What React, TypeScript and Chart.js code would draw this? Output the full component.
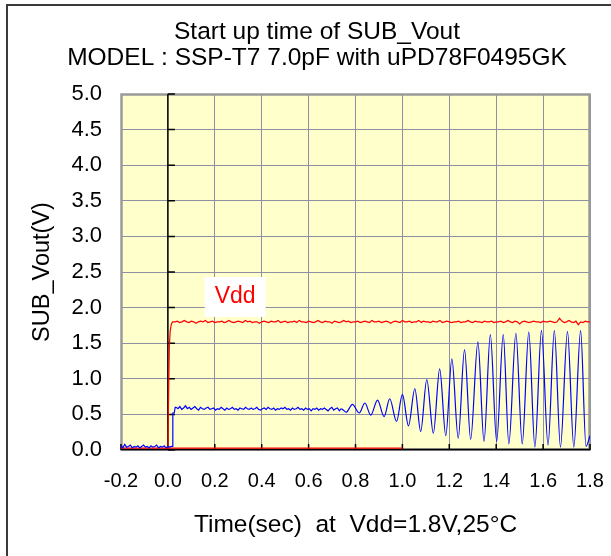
import { useEffect, useRef } from 'react';
import { Chart, registerables } from 'chart.js';

Chart.register(...registerables);

const FAMILY = '"Liberation Sans", Arial, sans-serif';

const TITLE_LINES = ['Start up time of SUB_Vout', 'MODEL : SSP-T7 7.0pF with uPD78F0495GK'];
const X_TITLE = 'Time(sec)  at  Vdd=1.8V,25°C';
const Y_TITLE = 'SUB_Vout(V)';
const VDD_LABEL = 'Vdd';
const VDD_LABEL_AT = { t: 0.287, v: 2.15 };

const X_TICKS = [-0.2, 0, 0.2, 0.4, 0.6, 0.8, 1.0, 1.2, 1.4, 1.6, 1.8];
const X_TICK_LABELS = ['-0.2', '0.0', '0.2', '0.4', '0.6', '0.8', '1.0', '1.2', '1.4', '1.6', '1.8'];
const Y_TICKS = [0, 0.5, 1.0, 1.5, 2.0, 2.5, 3.0, 3.5, 4.0, 4.5, 5.0];
const Y_TICK_LABELS = ['0.0', '0.5', '1.0', '1.5', '2.0', '2.5', '3.0', '3.5', '4.0', '4.5', '5.0'];

// SUB_Vout (blue) — sampled trace before power-up
const BLUE_PRE_START = -0.2;
const BLUE_PRE_STEP = 0.008;
const BLUE_PRE = [
  0.06, 0.03, 0.08, 0.04, 0.05, 0.07, 0.03, 0.05, 0.04, 0.06, 0.03, 0.05, 0.07, 0.04,
  0.05, 0.03, 0.06, 0.04, 0.05, 0.07, 0.03, 0.05, 0.04, 0.06, 0.03, 0.05, 0.04, 0.05,
];
// step up right after power-on
const BLUE_JUMP_T = [0.021, 0.021, 0.027, 0.031];
const BLUE_JUMP_V = [0.05, 0.52, 0.52, 0.6];
// flat (not yet oscillating) part
const BLUE_FLAT_START = 0.035;
const BLUE_FLAT_STEP = 0.008;
const BLUE_FLAT = [
  0.60, 0.58, 0.61, 0.57, 0.59, 0.62, 0.58, 0.60, 0.57, 0.59, 0.61, 0.58, 0.56, 0.60, 0.58, 0.57, 0.59, 0.60, 0.57, 0.58,
  0.59, 0.56, 0.58, 0.57, 0.60, 0.58, 0.56, 0.59, 0.57, 0.58, 0.60, 0.57, 0.58, 0.56, 0.59, 0.58, 0.57, 0.60, 0.58, 0.57,
  0.59, 0.57, 0.58, 0.60, 0.57, 0.56, 0.58, 0.59, 0.57, 0.60, 0.58, 0.57, 0.59, 0.56, 0.58, 0.57, 0.59, 0.58, 0.60, 0.57,
  0.58, 0.56, 0.59, 0.57, 0.58, 0.60, 0.57, 0.58, 0.56, 0.59, 0.57, 0.58, 0.55, 0.58, 0.57, 0.59, 0.56, 0.58, 0.57, 0.59,
  0.57, 0.55, 0.58, 0.60, 0.56, 0.58, 0.59, 0.55, 0.58,
];
// growing oscillation: alternating peaks and troughs
const BLUE_WAVE_T = [
  0.745, 0.76, 0.787, 0.816, 0.84, 0.865, 0.894, 0.922, 0.946, 0.975, 1.0, 1.026, 1.053, 1.078,
  1.104, 1.132, 1.159, 1.185, 1.211, 1.238, 1.265, 1.291, 1.322, 1.348, 1.375, 1.402, 1.43, 1.454,
  1.484, 1.511, 1.539, 1.565, 1.593, 1.621, 1.648, 1.674, 1.704, 1.731, 1.76, 1.783, 1.8,
];
const BLUE_WAVE_V = [
  0.57, 0.53, 0.64, 0.52, 0.66, 0.49, 0.70, 0.47, 0.72, 0.40, 0.78, 0.34, 0.86, 0.26,
  0.99, 0.235, 1.14, 0.20, 1.28, 0.165, 1.41, 0.15, 1.52, 0.12, 1.62, 0.12, 1.62, 0.085,
  1.64, 0.085, 1.66, 0.04, 1.68, 0.07, 1.68, 0.04, 1.665, 0.04, 1.68, 0.05, 0.2,
];

// Vdd (red)
const RED_BASE_T = [-0.2, 1.0];
const RED_BASE_V = [0.025, 0.025];
const RED_RISE_T = [0.0, 0.003, 0.006, 0.01, 0.015, 0.02];
const RED_RISE_V = [0.025, 0.8, 1.45, 1.68, 1.77, 1.8];
const RED_FLAT_START = 0.03;
const RED_FLAT_STEP = 0.01;
const RED_FLAT = [
  1.80, 1.81, 1.79, 1.80, 1.82, 1.80, 1.79, 1.81, 1.80, 1.78, 1.80, 1.81, 1.80, 1.82, 1.79, 1.80, 1.81, 1.79, 1.80, 1.80,
  1.81, 1.79, 1.80, 1.82, 1.80, 1.79, 1.80, 1.81, 1.80, 1.79, 1.82, 1.80, 1.81, 1.79, 1.80, 1.80, 1.78, 1.80, 1.81, 1.80,
  1.79, 1.81, 1.80, 1.80, 1.82, 1.79, 1.80, 1.81, 1.79, 1.80, 1.80, 1.81, 1.79, 1.82, 1.80, 1.80, 1.79, 1.81, 1.80, 1.79,
  1.80, 1.82, 1.80, 1.79, 1.81, 1.80, 1.80, 1.78, 1.81, 1.80, 1.79, 1.80, 1.82, 1.80, 1.81, 1.79, 1.80, 1.80, 1.81, 1.79,
  1.80, 1.81, 1.80, 1.79, 1.82, 1.80, 1.80, 1.81, 1.79, 1.80, 1.81, 1.80, 1.78, 1.80, 1.81, 1.80, 1.79, 1.82, 1.80, 1.80,
  1.81, 1.79, 1.80, 1.80, 1.82, 1.79, 1.81, 1.80, 1.80, 1.79, 1.81, 1.80, 1.80, 1.82, 1.79, 1.80, 1.81, 1.80, 1.79, 1.80,
  1.80, 1.81, 1.79, 1.80, 1.80, 1.82, 1.80, 1.79, 1.81, 1.80, 1.80, 1.79, 1.81, 1.80, 1.80, 1.81, 1.79, 1.80, 1.80, 1.81,
  1.79, 1.80, 1.82, 1.80, 1.79, 1.81, 1.80, 1.77, 1.80, 1.81, 1.80, 1.79, 1.80, 1.81, 1.80, 1.80, 1.79, 1.81, 1.80, 1.80,
  1.81, 1.80, 1.79, 1.80, 1.85, 1.81, 1.79, 1.80, 1.82, 1.80, 1.79, 1.81, 1.76, 1.80, 1.79, 1.81, 1.80, 1.80,
];

const PLOT_BG = '#FFFFCC';
const GRID = '#8e8ea4';
const BLUE = '#0000ff';
const RED = '#ff0000';

type P = { x: number; y: number };
const sampled = (start: number, step: number, vals: number[]): P[] =>
  vals.map((y, i) => ({ x: start + i * step, y }));
const paired = (ts: number[], vs: number[]): P[] => ts.map((x, i) => ({ x, y: vs[i] }));

const decorPlugin = {
  id: 'decor',
  beforeDraw(chart: any) {
    const { ctx, chartArea: a } = chart;
    ctx.save();
    ctx.fillStyle = '#ffffff';
    ctx.fillRect(0, 0, chart.width, chart.height);
    ctx.strokeStyle = '#3a3a3a';
    ctx.lineWidth = 2;
    ctx.strokeRect(7, 5, 622, 620);
    ctx.fillStyle = PLOT_BG;
    ctx.fillRect(a.left, a.top, a.right - a.left, a.bottom - a.top);
    ctx.restore();
  },
  beforeDatasetsDraw(chart: any) {
    const { ctx, chartArea: a, scales } = chart;
    const xs = scales.x;
    const ys = scales.y;
    const x0 = xs.getPixelForValue(0);
    const y0 = ys.getPixelForValue(0);
    ctx.save();
    ctx.strokeStyle = '#9a9a9a';
    ctx.lineWidth = 2.5;
    ctx.strokeRect(a.left + 0.5, a.top + 0.5, a.right - a.left - 1, a.bottom - a.top - 1);
    ctx.strokeStyle = '#000';
    ctx.lineWidth = 1.5;
    ctx.beginPath();
    ctx.moveTo(x0, a.top);
    ctx.lineTo(x0, a.bottom);
    ctx.moveTo(a.left, y0 - 0.5);
    ctx.lineTo(a.right, y0 - 0.5);
    for (const v of Y_TICKS) {
      const py = ys.getPixelForValue(v);
      ctx.moveTo(x0, py);
      ctx.lineTo(x0 + 7, py);
    }
    for (const v of X_TICKS) {
      const px = xs.getPixelForValue(v);
      ctx.moveTo(px, y0);
      ctx.lineTo(px, y0 - 6);
    }
    ctx.stroke();
    // Vdd label box
    const lx = xs.getPixelForValue(VDD_LABEL_AT.t);
    const ly = ys.getPixelForValue(VDD_LABEL_AT.v);
    ctx.fillStyle = '#ffffff';
    ctx.fillRect(lx - 30.5, ly - 20, 61, 40);
    ctx.fillStyle = RED;
    ctx.font = `23px ${FAMILY}`;
    ctx.textAlign = 'center';
    ctx.textBaseline = 'middle';
    ctx.fillText(VDD_LABEL, lx, ly);
    ctx.restore();
  },
  afterDatasetsDraw(chart: any) {
    const { ctx } = chart;
    ctx.save();
    ctx.fillStyle = '#000';
    ctx.font = `24.5px ${FAMILY}`;
    ctx.textAlign = 'center';
    ctx.textBaseline = 'middle';
    ctx.fillText(TITLE_LINES[0], 317, 32);
    ctx.fillText(TITLE_LINES[1], 317, 58);
    ctx.restore();
  },
};

export default function App() {
  const ref = useRef<HTMLCanvasElement>(null);
  useEffect(() => {
    const blueTrace = [
      ...sampled(BLUE_PRE_START, BLUE_PRE_STEP, BLUE_PRE),
      ...paired(BLUE_JUMP_T, BLUE_JUMP_V),
      ...sampled(BLUE_FLAT_START, BLUE_FLAT_STEP, BLUE_FLAT),
    ];
    const blueWave = [blueTrace[blueTrace.length - 1], ...paired(BLUE_WAVE_T, BLUE_WAVE_V)];
    const redTrace = [...paired(RED_RISE_T, RED_RISE_V), ...sampled(RED_FLAT_START, RED_FLAT_STEP, RED_FLAT)];
    const redBase = paired(RED_BASE_T, RED_BASE_V);

    const common = { pointRadius: 0, borderWidth: 1.2, fill: false };
    const chart = new Chart(ref.current as HTMLCanvasElement, {
      type: 'line',
      data: {
        datasets: [
          { ...common, label: 'SUB_Vout', data: blueTrace, borderColor: BLUE, tension: 0 },
          { ...common, label: 'SUB_Vout osc', data: blueWave, borderColor: BLUE, cubicInterpolationMode: 'monotone' },
          { ...common, label: 'Vdd', data: redTrace, borderColor: RED, tension: 0 },
          { ...common, label: 'Vdd base', data: redBase, borderColor: RED, tension: 0 },
        ],
      },
      options: {
        animation: false,
        responsive: false,
        events: [],
        layout: { padding: { left: 0, top: 94, right: 21, bottom: 0 } },
        plugins: { legend: { display: false }, tooltip: { enabled: false }, title: { display: false } },
        scales: {
          x: {
            type: 'linear',
            min: -0.2,
            max: 1.8,
            afterBuildTicks: (s: any) => {
              s.ticks = X_TICKS.map((value) => ({ value }));
            },
            ticks: {
              callback: (_v: any, i: number) => X_TICK_LABELS[i],
              font: { family: FAMILY, size: 20 },
              color: '#000',
              padding: 19,
              maxRotation: 0,
              autoSkip: false,
            },
            grid: { color: GRID, lineWidth: 1, drawTicks: false },
            border: { display: false },
            title: {
              display: true,
              text: X_TITLE,
              color: '#000',
              font: { family: FAMILY, size: 24.5 },
              padding: { top: 0, bottom: 16 },
            },
            afterFit: (s: any) => {
              s.height = 106;
              s.paddingLeft = 0;
              s.paddingRight = 0;
            },
          },
          y: {
            type: 'linear',
            min: 0,
            max: 5,
            afterBuildTicks: (s: any) => {
              s.ticks = Y_TICKS.map((value) => ({ value }));
            },
            ticks: {
              callback: (_v: any, i: number) => Y_TICK_LABELS[i],
              font: { family: FAMILY, size: 22 },
              color: '#000',
              padding: 19,
              autoSkip: false,
            },
            grid: { color: GRID, lineWidth: 1, drawTicks: false },
            border: { display: false },
            title: {
              display: true,
              text: Y_TITLE,
              color: '#000',
              font: { family: FAMILY, size: 23.5 },
              padding: { top: 28, bottom: 0 },
            },
            afterFit: (s: any) => {
              s.width = 121;
              s.paddingTop = 0;
              s.paddingBottom = 0;
            },
          },
        },
      },
      plugins: [decorPlugin],
    } as any);
    return () => chart.destroy();
  }, []);

  return (
    <div style={{ position: 'absolute', left: 0, top: 0, width: 611, height: 556 }}>
      <canvas ref={ref} width={611} height={556} style={{ display: 'block', width: 611, height: 556 }} />
    </div>
  );
}
